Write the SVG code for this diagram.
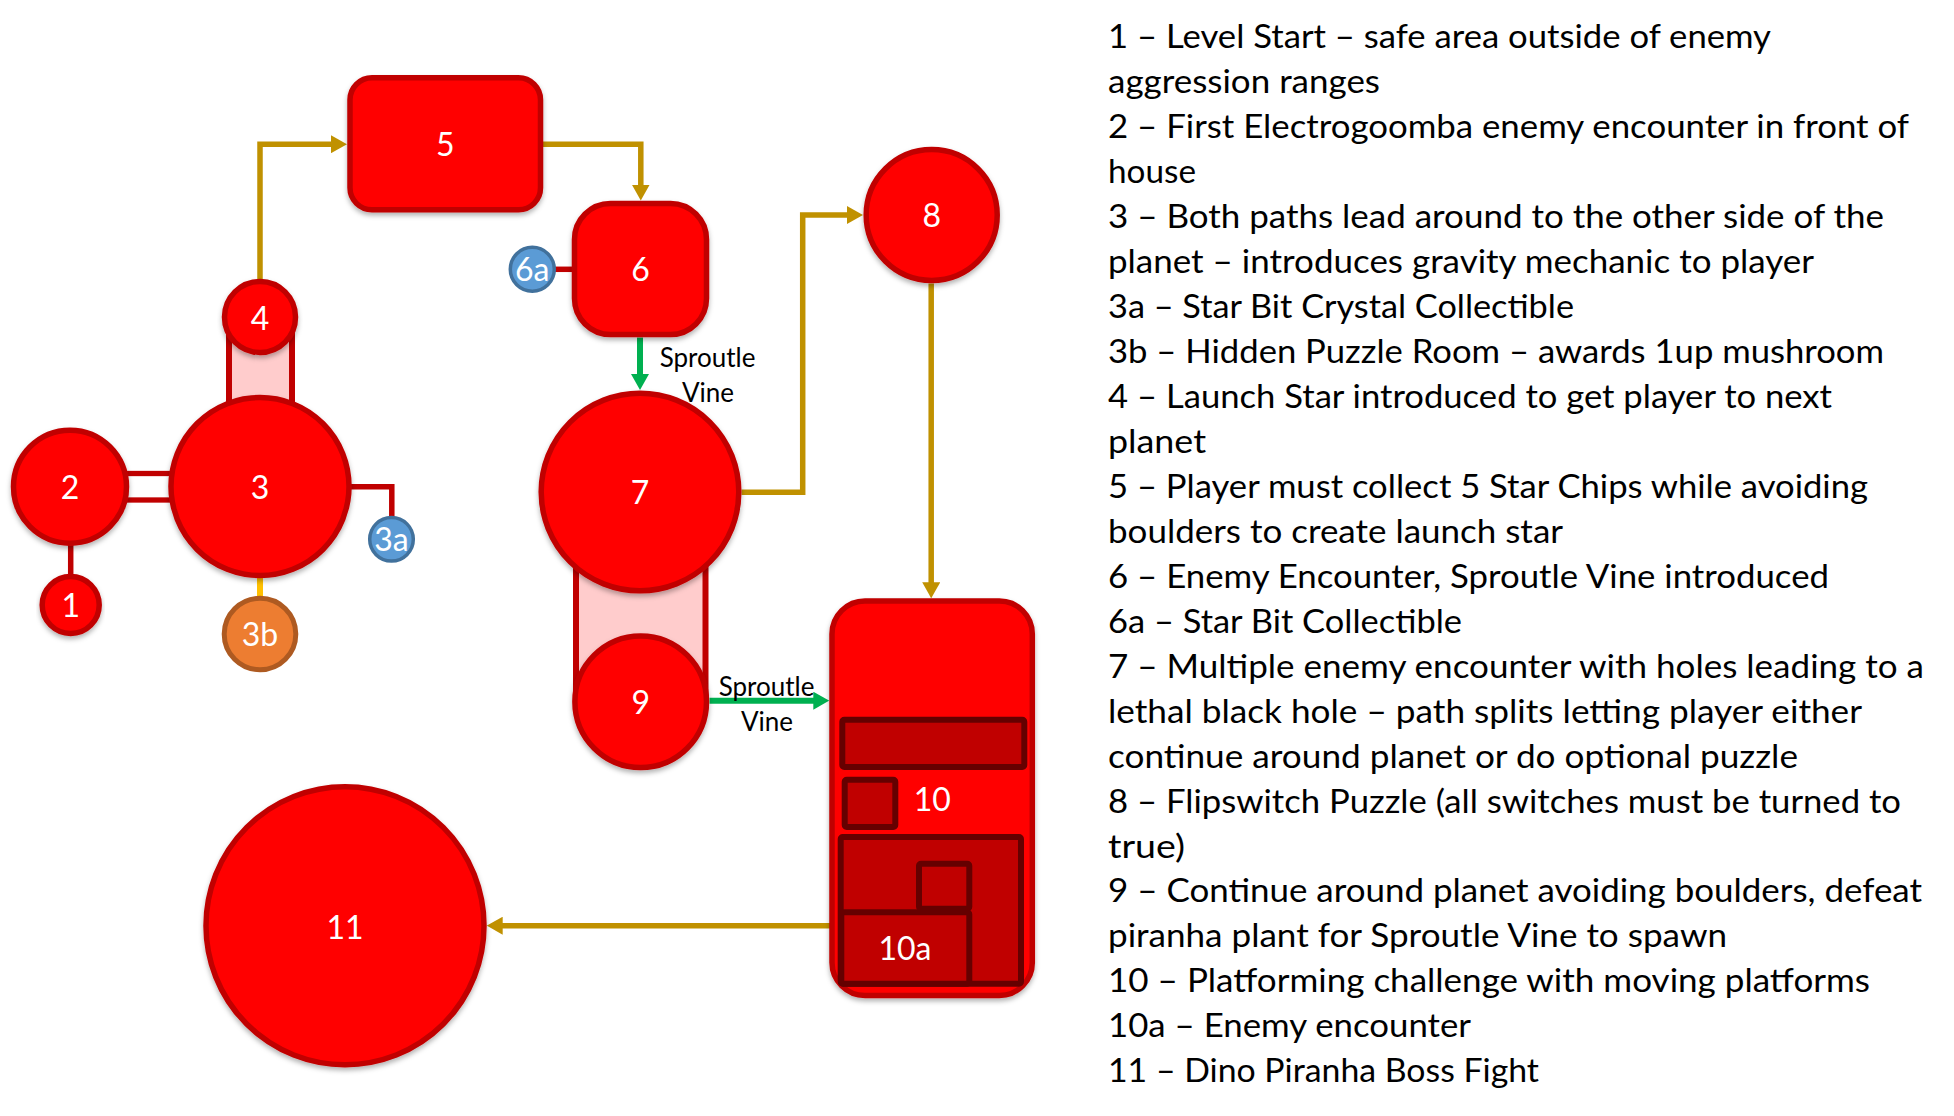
<svg xmlns="http://www.w3.org/2000/svg" width="1954" height="1116" viewBox="0 0 1954 1116">
<style>
.node{fill:#FF0000;stroke:#C00000;stroke-width:5.5}
.blue{fill:#5B9BD5;stroke:#41719C;stroke-width:3.5}
.orange{fill:#ED7D31;stroke:#AE5A21;stroke-width:5}
.inner{fill:#C00000;stroke:#650000;stroke-width:6}
.lbl{fill:#FFFFFF;font-family:Lato,"Open Sans",sans-serif;font-size:32px;text-anchor:middle}
.gold{fill:none;stroke:#C09100;stroke-width:5.5}
.green{fill:none;stroke:#00B050;stroke-width:6}
.red{fill:none;stroke:#C00000;stroke-width:5.5}
.band{fill:#FFCCCC;stroke:#C00000;stroke-width:6}
.elbl{fill:#000000;font-family:Lato,"Open Sans",sans-serif;font-size:26px;text-anchor:middle}
.leg{fill:#000000;font-family:Lato,"Open Sans",sans-serif;font-size:32px}
</style>
<defs>
<filter id="sh" x="-10%" y="-10%" width="120%" height="130%">
<feDropShadow dx="0" dy="3" stdDeviation="2.5" flood-color="#000000" flood-opacity="0.3"/>
</filter>
<marker id="ag" markerUnits="userSpaceOnUse" markerWidth="16" markerHeight="18" refX="4" refY="9" orient="auto">
<path d="M0,0 L16,9 L0,18 z" fill="#C09100"/>
</marker>
<marker id="ae" markerUnits="userSpaceOnUse" markerWidth="16" markerHeight="18" refX="4" refY="9" orient="auto">
<path d="M0,0 L16,9 L0,18 z" fill="#00B050"/>
</marker>
</defs>
<rect width="1954" height="1116" fill="#FFFFFF"/>

<g id="connectors">
<rect class="band" x="229" y="317" width="63" height="110"/>
<rect class="band" x="576" y="492" width="129.5" height="210"/>
<rect x="120" y="473.5" width="60" height="26.5" fill="#FFFFFF" stroke="#C00000" stroke-width="5.3"/>
<path class="red" d="M70.7,540 V580"/>
<path class="red" d="M345,486.7 H391.8 V518"/>
<path class="red" d="M550,269.3 H576"/>
<path d="M260,574 V598" fill="none" stroke="#FFC000" stroke-width="6"/>
<path class="gold" d="M260,279 V144.2 H335" marker-end="url(#ag)"/>
<path class="gold" d="M543,144.2 H640.8 V188.5" marker-end="url(#ag)"/>
<path class="gold" d="M741.5,492.2 H802.7 V215 H851" marker-end="url(#ag)"/>
<path class="gold" d="M931.2,283.5 V586.3" marker-end="url(#ag)"/>
<path class="gold" d="M830,925.7 H498.7" marker-end="url(#ag)"/>
<path class="green" d="M640,337.5 V378" marker-end="url(#ae)"/>
<path class="green" d="M709.5,700.7 H817.3" marker-end="url(#ae)"/>
<text class="elbl" x="707.5" y="366.7">Sproutle</text>
<text class="elbl" x="708" y="401.7">Vine</text>
<text class="elbl" x="766.5" y="696">Sproutle</text>
<text class="elbl" x="767" y="730.7">Vine</text>
</g>

<g id="node-1"><circle class="node" filter="url(#sh)" cx="70.7" cy="605" r="28.5"/><text class="lbl" x="70.7" y="617">1</text></g>
<g id="node-2"><circle class="node" filter="url(#sh)" cx="70" cy="486.7" r="56.5"/><text class="lbl" x="70" y="498.5">2</text></g>
<g id="node-3"><circle class="node" filter="url(#sh)" cx="260" cy="486.5" r="89"/><text class="lbl" x="260" y="498.5">3</text></g>
<g id="node-4"><circle class="node" filter="url(#sh)" cx="260" cy="317" r="35.5"/><text class="lbl" x="260" y="329.5">4</text></g>
<g id="node-3a"><circle class="blue" cx="391.5" cy="539.3" r="21.8"/><text class="lbl" x="391.5" y="550.5">3a</text></g>
<g id="node-3b"><circle class="orange" cx="260" cy="634" r="35.8"/><text class="lbl" x="260" y="645.5">3b</text></g>
<g id="node-5"><rect class="node" filter="url(#sh)" x="350" y="77.8" width="190.5" height="132" rx="22"/><text class="lbl" x="445.3" y="156.3">5</text></g>
<g id="node-6"><rect class="node" filter="url(#sh)" x="574.5" y="203.5" width="132" height="131" rx="36"/><text class="lbl" x="640.5" y="281">6</text></g>
<g id="node-6a"><circle class="blue" cx="532.3" cy="269.3" r="22"/><text class="lbl" x="532.3" y="281">6a</text></g>
<g id="node-7"><circle class="node" filter="url(#sh)" cx="640" cy="492" r="98.8"/><text class="lbl" x="640" y="504">7</text></g>
<g id="node-8"><circle class="node" filter="url(#sh)" cx="931.7" cy="215" r="65.5"/><text class="lbl" x="931.7" y="227">8</text></g>
<g id="node-9"><circle class="node" filter="url(#sh)" cx="640.7" cy="701.7" r="65.8"/><text class="lbl" x="640.7" y="713.5">9</text></g>
<g id="node-10">
<rect class="node" filter="url(#sh)" x="832" y="601" width="200.3" height="394.5" rx="33"/>
<rect class="inner" x="842.3" y="719.7" width="182" height="47.3" rx="2"/>
<rect class="inner" x="844.7" y="779.7" width="50.6" height="47.3" rx="2"/>
<rect class="inner" x="840.7" y="837" width="180.3" height="146.7" rx="2"/>
<rect class="inner" x="919" y="863.7" width="50.3" height="45" rx="2"/>
<text class="lbl" x="932.3" y="811">10</text>
</g>
<g id="node-10a"><rect class="inner" x="841.3" y="912.3" width="128" height="71.4" rx="2"/><text class="lbl" x="905" y="959.5">10a</text></g>
<g id="node-11"><circle class="node" filter="url(#sh)" cx="345" cy="925.7" r="139"/><text class="lbl" x="345" y="938.5">11</text></g>

<g id="legend">
<text class="leg" x="1108" y="48" textLength="663" lengthAdjust="spacingAndGlyphs">1 – Level Start – safe area outside of enemy</text>
<text class="leg" x="1108" y="93" textLength="272" lengthAdjust="spacingAndGlyphs">aggression ranges</text>
<text class="leg" x="1108" y="137.9" textLength="801" lengthAdjust="spacingAndGlyphs">2 – First Electrogoomba enemy encounter in front of</text>
<text class="leg" x="1108" y="182.9" textLength="88" lengthAdjust="spacingAndGlyphs">house</text>
<text class="leg" x="1108" y="227.9" textLength="776" lengthAdjust="spacingAndGlyphs">3 – Both paths lead around to the other side of the</text>
<text class="leg" x="1108" y="272.9" textLength="706" lengthAdjust="spacingAndGlyphs">planet – introduces gravity mechanic to player</text>
<text class="leg" x="1108" y="317.8" textLength="466" lengthAdjust="spacingAndGlyphs">3a – Star Bit Crystal Collectible</text>
<text class="leg" x="1108" y="362.8" textLength="776" lengthAdjust="spacingAndGlyphs">3b – Hidden Puzzle Room – awards 1up mushroom</text>
<text class="leg" x="1108" y="407.8" textLength="724" lengthAdjust="spacingAndGlyphs">4 – Launch Star introduced to get player to next</text>
<text class="leg" x="1108" y="452.7" textLength="98" lengthAdjust="spacingAndGlyphs">planet</text>
<text class="leg" x="1108" y="497.7" textLength="760" lengthAdjust="spacingAndGlyphs">5 – Player must collect 5 Star Chips while avoiding</text>
<text class="leg" x="1108" y="542.7" textLength="455" lengthAdjust="spacingAndGlyphs">boulders to create launch star</text>
<text class="leg" x="1108" y="587.6" textLength="721" lengthAdjust="spacingAndGlyphs">6 – Enemy Encounter, Sproutle Vine introduced</text>
<text class="leg" x="1108" y="632.6" textLength="354" lengthAdjust="spacingAndGlyphs">6a – Star Bit Collectible</text>
<text class="leg" x="1108" y="677.6" textLength="816" lengthAdjust="spacingAndGlyphs">7 – Multiple enemy encounter with holes leading to a</text>
<text class="leg" x="1108" y="722.6" textLength="754" lengthAdjust="spacingAndGlyphs">lethal black hole – path splits letting player either</text>
<text class="leg" x="1108" y="767.5" textLength="690" lengthAdjust="spacingAndGlyphs">continue around planet or do optional puzzle</text>
<text class="leg" x="1108" y="812.5" textLength="793" lengthAdjust="spacingAndGlyphs">8 – Flipswitch Puzzle (all switches must be turned to</text>
<text class="leg" x="1108" y="857.5" textLength="77" lengthAdjust="spacingAndGlyphs">true)</text>
<text class="leg" x="1108" y="902.4" textLength="814" lengthAdjust="spacingAndGlyphs">9 – Continue around planet avoiding boulders, defeat</text>
<text class="leg" x="1108" y="947.4" textLength="619" lengthAdjust="spacingAndGlyphs">piranha plant for Sproutle Vine to spawn</text>
<text class="leg" x="1108" y="992.3" textLength="762" lengthAdjust="spacingAndGlyphs">10 – Platforming challenge with moving platforms</text>
<text class="leg" x="1108" y="1037.3" textLength="363" lengthAdjust="spacingAndGlyphs">10a – Enemy encounter</text>
<text class="leg" x="1108" y="1082.3" textLength="431" lengthAdjust="spacingAndGlyphs">11 – Dino Piranha Boss Fight</text>
</g>
</svg>
